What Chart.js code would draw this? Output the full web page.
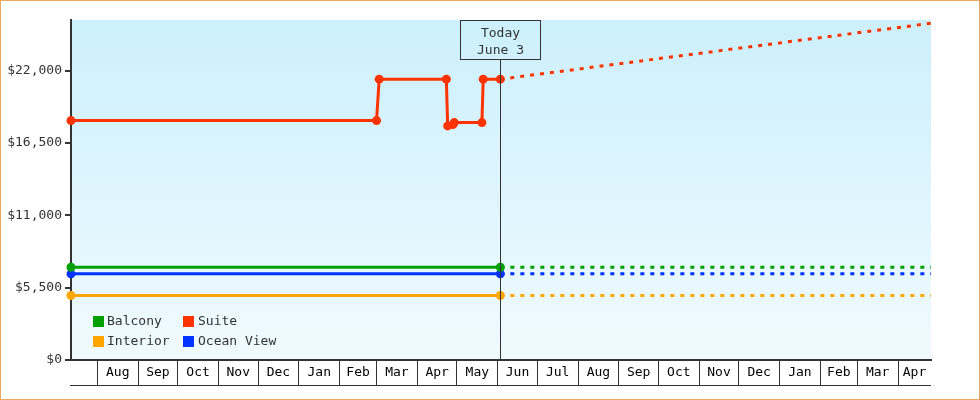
<!DOCTYPE html>
<html>
<head>
<meta charset="utf-8">
<script src="https://cdn.jsdelivr.net/npm/chart.js@4/dist/chart.umd.min.js"></script>
<style>
  html, body { margin: 0; padding: 0; background: #fff; }
  .frame { width: 980px; height: 400px; box-sizing: border-box; border: 1px solid #e8a860; }
  canvas { display: block; }
</style>
</head>
<body>
<div class="frame"><canvas id="priceChart" width="978" height="398"></canvas></div>
<script>
// dates & prices
const rangeStart = '2017-07-12';
const rangeEnd = '2019-04-26';
const todayDate = '2018-06-03';
const todayLines = ['Today', 'June 3'];

const flatDates = ['2017-07-12', '2018-06-03'];
const balconyPrices = [7050, 7050];
const interiorPrices = [4900, 4900];
const oceanPrices = [6550, 6550];

const suiteDates = ['2017-07-12', '2018-03-01', '2018-03-03', '2018-04-23', '2018-04-24',
    '2018-04-28', '2018-04-29', '2018-05-20', '2018-05-21', '2018-06-03'];
const suitePrices = [18200, 18200, 21350, 21350, 17800, 17900, 18050, 18050, 21350, 21350];

// projection after today
const projDates = ['2018-06-03', '2019-04-26'];
const balconyProj = [7050, 7050];
const suiteProj = [21350, 25600];
const interiorProj = [4900, 4900];
const oceanProj = [6550, 6550];

const yTicks = [0, 5500, 11000, 16500, 22000];
const yMax = 25850;

const monthStarts = ['2017-08-01', '2017-09-01', '2017-10-01', '2017-11-01', '2017-12-01',
    '2018-01-01', '2018-02-01', '2018-03-01', '2018-04-01', '2018-05-01', '2018-06-01',
    '2018-07-01', '2018-08-01', '2018-09-01', '2018-10-01', '2018-11-01', '2018-12-01',
    '2019-01-01', '2019-02-01', '2019-03-01', '2019-04-01'];
const monthLabels = ['Aug', 'Sep', 'Oct', 'Nov', 'Dec', 'Jan', 'Feb', 'Mar', 'Apr', 'May', 'Jun',
    'Jul', 'Aug', 'Sep', 'Oct', 'Nov', 'Dec', 'Jan', 'Feb', 'Mar', 'Apr'];

//set colors
let balconyColor = '#00a000';
let suiteColor = '#ff3300';
let interiorColor = '#ffa500';
let oceanColor = '#0033ff';
let inkColor = '#333333';

const DAY = 86400000;
function day(s) {
    return Date.parse(s + 'T00:00:00Z') / DAY;
}
function pts(dates, values) {
    return dates.map((d, i) => ({ x: day(d), y: values[i] }));
}

// month cell ticks: boundary (line, no label) + middle (label, no line)
let xTicks = [];
monthStarts.forEach((m, i) => {
    let a = day(m);
    let b = i + 1 < monthStarts.length ? day(monthStarts[i + 1]) : day(rangeEnd);
    xTicks.push({ value: a, label: '', edge: true });
    xTicks.push({ value: (a + b) / 2, label: monthLabels[i], edge: false });
});

Chart.defaults.font.family = "'DejaVu Sans Mono', monospace";
Chart.defaults.font.size = 13;
Chart.defaults.color = inkColor;

function solid(label, color, data) {
    return {
        label: label, data: data, legend: true, clip: false,
        borderColor: color, backgroundColor: color,
        borderWidth: 3, pointRadius: 4.5, pointHoverRadius: 4.5,
        pointBorderWidth: 0, pointBackgroundColor: color, tension: 0
    };
}
function dotted(color, data) {
    return {
        label: '', data: data, legend: false,
        borderColor: color, borderWidth: 3, borderDash: [4, 6],
        pointRadius: 0, tension: 0
    };
}

const plotBackground = {
    id: 'plotBackground',
    beforeDraw(chart) {
        const { ctx, chartArea: a } = chart;
        let g = ctx.createLinearGradient(0, a.top, 0, a.bottom);
        g.addColorStop(0, '#ccf0fc');
        g.addColorStop(1, '#f0faff');
        ctx.save();
        ctx.fillStyle = g;
        ctx.fillRect(a.left, a.top, a.right - a.left, a.bottom - a.top);
        ctx.restore();
    }
};

const extras = {
    id: 'extras',
    afterDatasetsDraw(chart) {
        const { ctx, chartArea: a, scales } = chart;
        ctx.save();
        // bottom line of the month strip
        ctx.strokeStyle = inkColor;
        ctx.lineWidth = 1;
        ctx.beginPath();
        ctx.moveTo(a.left - 1, a.bottom + 25.5);
        ctx.lineTo(a.right, a.bottom + 25.5);
        ctx.stroke();

        // today marker
        let tx = Math.round(scales.x.getPixelForValue(day(todayDate))) + 0.5;
        ctx.beginPath();
        ctx.moveTo(tx, a.top + 40);
        ctx.lineTo(tx, a.bottom);
        ctx.stroke();
        ctx.strokeRect(tx - 40, a.top + 0.5, 80, 39);
        ctx.fillStyle = inkColor;
        ctx.font = "13px 'DejaVu Sans Mono'";
        ctx.textAlign = 'center';
        ctx.textBaseline = 'middle';
        ctx.fillText(todayLines[0], tx, a.top + 14);
        ctx.fillText(todayLines[1], tx, a.top + 31);

        // legend inside plot, two columns
        let items = chart.data.datasets.filter(d => d.legend);
        ctx.textAlign = 'left';
        items.forEach((d, i) => {
            let x = a.left + 22 + (i % 2) * 90;
            let y = a.bottom - 39 + Math.floor(i / 2) * 20;
            ctx.fillStyle = d.borderColor;
            ctx.fillRect(x, y - 5, 11, 11);
            ctx.fillStyle = inkColor;
            ctx.fillText(d.label, x + 14 + (i % 2), y + 1);
        });
        ctx.restore();
    }
};

new Chart(document.getElementById('priceChart'), {
    type: 'line',
    data: {
        datasets: [
            solid('Balcony', balconyColor, pts(flatDates, balconyPrices)),
            solid('Suite', suiteColor, pts(suiteDates, suitePrices)),
            solid('Interior', interiorColor, pts(flatDates, interiorPrices)),
            solid('Ocean View', oceanColor, pts(flatDates, oceanPrices)),
            dotted(balconyColor, pts(projDates, balconyProj)),
            dotted(suiteColor, pts(projDates, suiteProj)),
            dotted(interiorColor, pts(projDates, interiorProj)),
            dotted(oceanColor, pts(projDates, oceanProj))
        ]
    },
    options: {
        responsive: false,
        animation: false,
        layout: { padding: { left: 0, top: 19, right: 48, bottom: 0 } },
        plugins: {
            legend: { display: false },
            tooltip: { enabled: false }
        },
        scales: {
            x: {
                type: 'linear',
                min: day(rangeStart),
                max: day(rangeEnd),
                afterBuildTicks: scale => { scale.ticks = xTicks.map(t => ({ value: t.value })); },
                afterFit: scale => { scale.height = 39; },
                border: { display: true, color: inkColor, width: 2 },
                grid: {
                    drawOnChartArea: false,
                    tickLength: 25,
                    color: inkColor,
                    lineWidth: ctx => (xTicks[ctx.index] && xTicks[ctx.index].edge ? 1 : 0)
                },
                ticks: {
                    autoSkip: false,
                    maxRotation: 0,
                    minRotation: 0,
                    padding: -20,
                    color: '#000',
                    callback: (v, i) => xTicks[i].label
                }
            },
            y: {
                min: 0,
                max: yMax,
                afterBuildTicks: scale => { scale.ticks = yTicks.map(v => ({ value: v })); },
                afterFit: scale => { scale.width = 70; },
                border: { display: true, color: inkColor, width: 2 },
                grid: { drawOnChartArea: false, tickLength: 6, color: inkColor, lineWidth: 2 },
                ticks: {
                    padding: 3,
                    callback: v => '$' + v.toLocaleString('en-US')
                }
            }
        }
    },
    plugins: [plotBackground, extras]
});
</script>
</body>
</html>
